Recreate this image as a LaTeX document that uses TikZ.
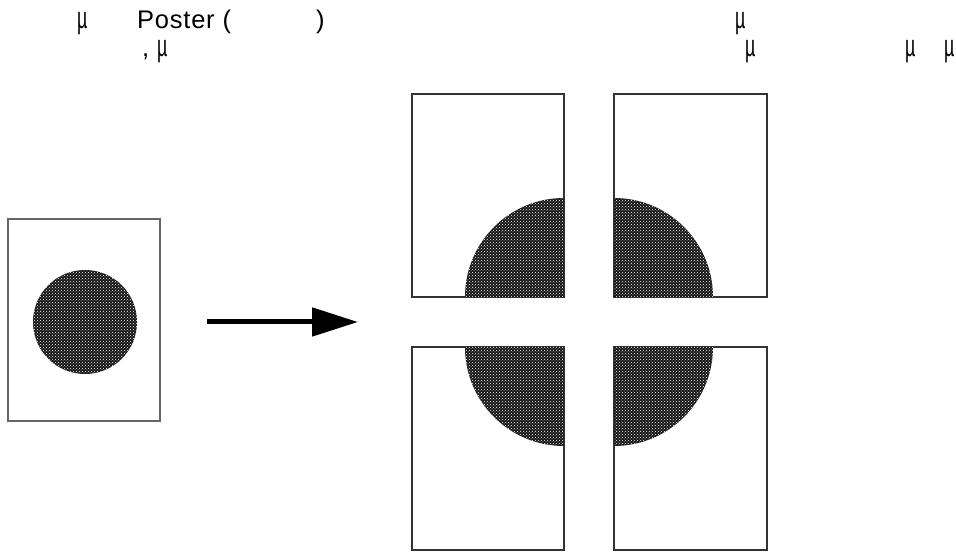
\documentclass[tikz,border=0pt]{standalone}
\usepackage{fontspec}
\setmainfont{Liberation Sans}
\usetikzlibrary{patterns,arrows.meta}
\newcommand{\mymu}{\scalebox{0.7}[1.2]{µ}}
\begin{document}
\begin{tikzpicture}[x=1pt,y=1pt,
  txt/.style={inner sep=0pt,anchor=base west,font=\fontsize{25.5}{30}\selectfont\addfontfeature{LetterSpace=3}},
  page/.style={draw=black!80,line width=1.6pt,fill=white},
  smallpage/.style={draw=black!60,line width=1.6pt,fill=white},
  halftone/.style={fill=black!92},
  dots/.style={pattern=crosshatch dots,pattern color=white}]
\useasboundingbox (0,0) rectangle (956,553);
\fill[white] (0,0) rectangle (956,553);
% text line 1
\node[txt] (t1) at (77,524) {\mymu};
\node[txt] (t2) at (137,524) {Poster (};
\node[txt] (t3) at (316,524) {)};
\node[txt] (t4) at (735,524) {\mymu};
% text line 2
\node[txt] (t5) at (142,496) {,};
\node[txt] (t6) at (157,496) {\mymu};
\node[txt] (t7) at (745,496) {\mymu};
\node[txt] (t8) at (905,496) {\mymu};
\node[txt] (t9) at (944,496) {\mymu};
% small page
\draw[smallpage] (8,132) rectangle (160,334);
\fill[halftone] (85,231) circle[radius=52];
\fill[dots] (85,231) circle[radius=52];
% arrow
\coordinate (a1) at (207,231);
\coordinate (a2) at (358,231);
\draw[line width=5pt,-{Triangle[length=46pt,width=28pt]}] (a1) -- (a2);
% big pages
\draw[page] (412,256) rectangle (564,459);
\draw[page] (614,256) rectangle (767,459);
\draw[page] (412,3) rectangle (564,206);
\draw[page] (614,3) rectangle (767,206);
% quarter circles
\foreach \cx/\cy/\sa/\ea in {564/256/180/90, 614/256/90/0, 564/206/270/180, 614/206/0/-90}{
  \fill[halftone] (\cx,\cy) -- ++(\sa:99) arc[start angle=\sa,end angle=\ea,radius=99] -- cycle;
  \fill[dots] (\cx,\cy) -- ++(\sa:99) arc[start angle=\sa,end angle=\ea,radius=99] -- cycle;
}
\end{tikzpicture}
\end{document}
